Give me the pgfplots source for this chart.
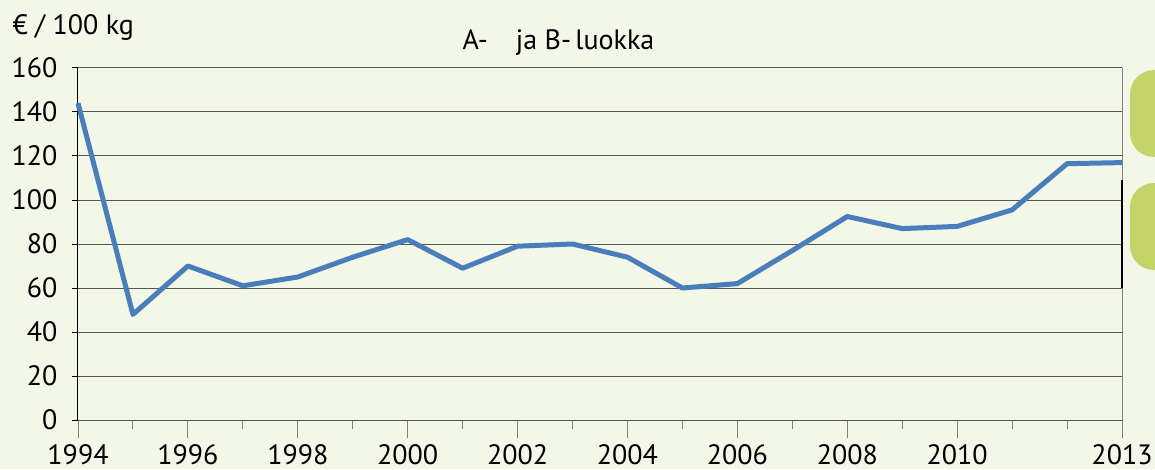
\documentclass[border=0pt]{standalone}
\usepackage{pgfplots}
\pgfplotsset{compat=1.18}
\usepackage{fontspec}
\setmainfont{PT Sans}
\definecolor{bg}{RGB}{243,247,232}
\definecolor{serie}{RGB}{74,126,187}
\definecolor{boxg}{RGB}{196,212,105}
\definecolor{gridc}{RGB}{85,85,85}
\newcommand{\fs}{\fontsize{28}{33}\selectfont}
\begin{document}
\begin{tikzpicture}[x=1pt,y=1pt]
\fill[bg] (-78,-49) rectangle (1077,420);
\fill[boxg, rounded corners=24pt] (1052,263) rectangle (1135,350);
\fill[boxg, rounded corners=24pt] (1052,150) rectangle (1135,237);
% x axis: ticks and labels
\begin{axis}[
  scale only axis, width=1044pt, height=352pt,
  xmin=1994, xmax=2013, ymin=0, ymax=160,
  axis x line*=bottom, axis y line=none,
  axis line style={black, line width=1pt},
  xtick={1994,1996,...,2010,2013},
  minor xtick={1995,1997,...,2011,2012},
  major tick length=18pt, minor tick length=9pt,
  tick align=outside,
  tick style={gray, line width=1pt},
  every tick label/.append style={font=\fs},
  xticklabel style={inner sep=0pt, yshift=-6pt},
  /pgf/number format/1000 sep={},
  /pgf/number format/assume math mode=true,
]
\end{axis}
% y axis, grid and data
\begin{axis}[
  scale only axis, width=1044pt, height=352pt,
  xmin=1994, xmax=2013, ymin=0, ymax=160,
  axis y line*=left, axis x line=none,
  axis line style={black, line width=1pt},
  ytick={0,20,...,160},
  major tick length=6pt,
  tick align=outside,
  tick style={black, line width=1pt},
  ymajorgrids, grid style={gridc, line width=1pt},
  every tick label/.append style={font=\fs},
  yticklabel style={xshift=-11pt},
  /pgf/number format/assume math mode=true,
  clip=false,
]
\addplot[serie, line width=5pt, line join=round] coordinates {
(1994,144) (1995,48) (1996,70) (1997,61) (1998,65) (1999,74) (2000,82)
(2001,69) (2002,79) (2003,80) (2004,74) (2005,60) (2006,62) (2007,77)
(2008,92.5) (2009,87) (2010,88) (2011,95.5) (2012,116.5) (2013,117)
};
\end{axis}
\draw[gray, line width=1pt] (1044,-18) -- (1044,352);
\draw[black, line width=2pt] (1044,240) -- (1044,132);
\node[font=\fs, anchor=west] at (381,377) {A-\hspace{1em}ja B-\hspace{0.15em}luokka};
\node[font=\fs, anchor=west] at (-69,392) {€ / 100 kg};
\pgfresetboundingbox
\path (-78,-49) rectangle (1077,420);
\end{tikzpicture}
\end{document}
